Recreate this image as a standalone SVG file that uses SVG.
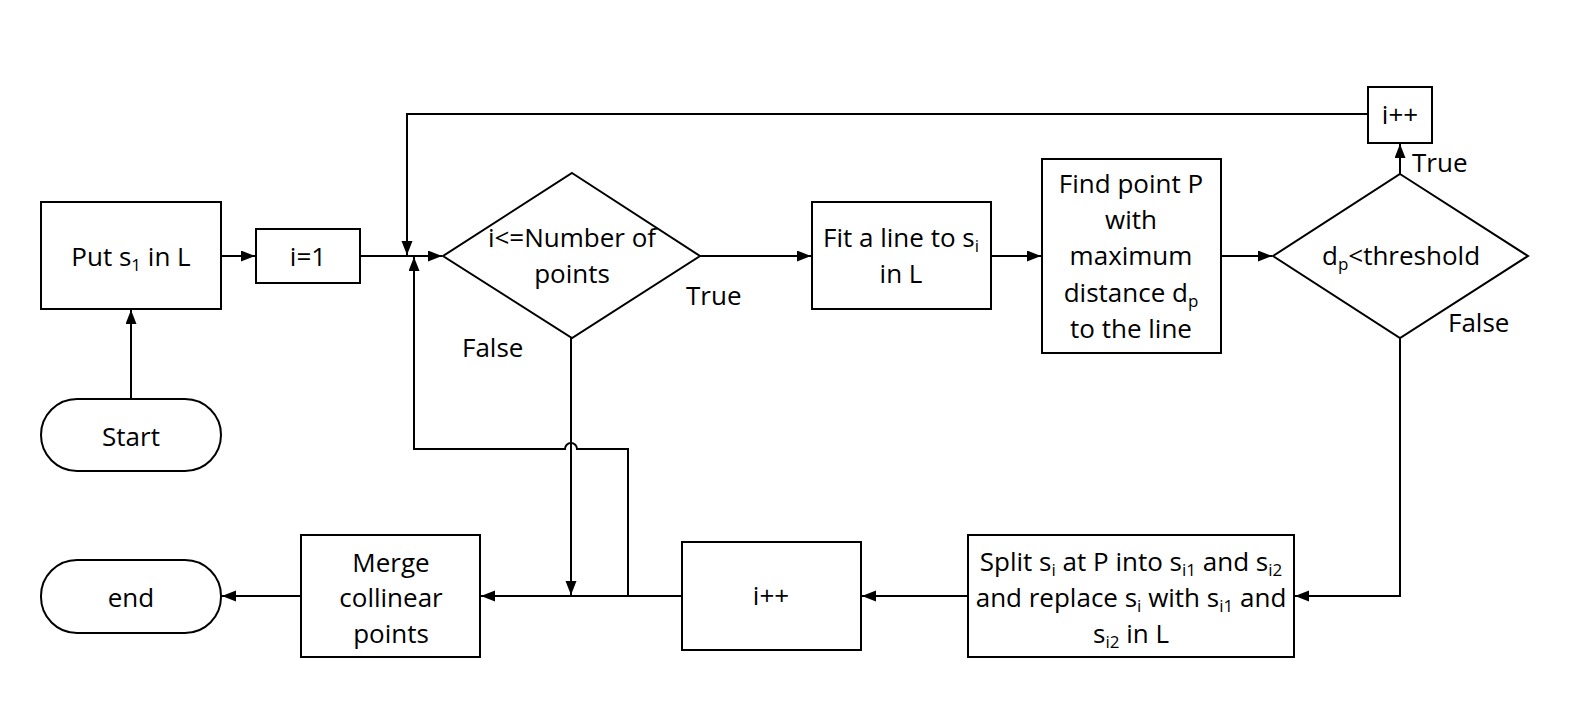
<svg xmlns="http://www.w3.org/2000/svg" width="1577" height="721" viewBox="0 0 1577 721">
<defs>
<marker id="arr" markerUnits="userSpaceOnUse" markerWidth="15" markerHeight="12" refX="14" refY="5.5" orient="auto">
<path d="M0,0 L14,5.5 L0,11 Z" fill="#000"/>
</marker>
<style>
.n{fill:#fff;stroke:#000;stroke-width:2}
.c{fill:none;stroke:#000;stroke-width:2}
.a{marker-end:url(#arr)}
text{font-family:"Open Sans","Noto Sans",sans-serif;font-size:26px;fill:#000}
.m{text-anchor:middle}
.s{font-size:17px}
</style>
</defs>
<rect width="1577" height="721" fill="#fff"/>
<g id="connectors">
<path class="c a" d="M131,399 V310"/>
<path class="c a" d="M221,256 H255"/>
<path class="c a" d="M360,256 H442"/>
<path class="c a" d="M1368,114 H407 V255"/>
<path class="c a" d="M628,596 V449 H577 A6,6 0 0 0 565,449 H414 V257"/>
<path class="c a" d="M700,256 H811"/>
<path class="c a" d="M991,256 H1041"/>
<path class="c a" d="M1221,256 H1272"/>
<path class="c a" d="M1400,174 V144"/>
<path class="c a" d="M1400,338 V596 H1295"/>
<path class="c a" d="M968,596 H862"/>
<path class="c a" d="M682,596 H481"/>
<path class="c a" d="M571,338 V595"/>
<path class="c a" d="M301,596 H222"/>
</g>
<g id="start">
<rect class="n" x="41" y="399" width="180" height="72" rx="36"/>
<text class="m" x="131" y="446">Start</text>
</g>
<g id="put">
<rect class="n" x="41" y="202" width="180" height="107"/>
<text class="m" x="131" y="266">Put s<tspan class="s" dy="5">1</tspan><tspan dy="-5"> in L</tspan></text>
</g>
<g id="init">
<rect class="n" x="256" y="229" width="104" height="54"/>
<text class="m" x="308" y="266">i=1</text>
</g>
<g id="cond1">
<polygon class="n" points="572,173 700,256 572,338 443,256"/>
<text class="m" x="572" y="247">i&lt;=Number of</text>
<text class="m" x="572" y="283">points</text>
<text x="686" y="305">True</text>
<text x="462" y="357">False</text>
</g>
<g id="fit">
<rect class="n" x="812" y="202" width="179" height="107"/>
<text class="m" x="901" y="247">Fit a line to s<tspan class="s" dy="5">i</tspan></text>
<text class="m" x="901" y="283">in L</text>
</g>
<g id="find">
<rect class="n" x="1042" y="159" width="179" height="194"/>
<text class="m" x="1131" y="193">Find point P</text>
<text class="m" x="1131" y="229">with</text>
<text class="m" x="1131" y="265">maximum</text>
<text class="m" x="1131" y="302">distance d<tspan class="s" dy="5">p</tspan></text>
<text class="m" x="1131" y="338">to the line</text>
</g>
<g id="cond2">
<polygon class="n" points="1400,174 1528,256 1400,338 1273,256"/>
<text class="m" x="1401" y="265">d<tspan class="s" dy="5">p</tspan><tspan dy="-5">&lt;threshold</tspan></text>
<text x="1412" y="172">True</text>
<text x="1448" y="332">False</text>
</g>
<g id="inc-top">
<rect class="n" x="1368" y="87" width="64" height="56"/>
<text class="m" x="1400" y="124">i++</text>
</g>
<g id="split">
<rect class="n" x="968" y="535" width="326" height="122"/>
<text class="m" x="1131" y="571">Split s<tspan class="s" dy="5">i</tspan><tspan dy="-5"> at P into s</tspan><tspan class="s" dy="5">i1</tspan><tspan dy="-5"> and s</tspan><tspan class="s" dy="5">i2</tspan></text>
<text class="m" x="1131" y="607">and replace s<tspan class="s" dy="5">i</tspan><tspan dy="-5"> with s</tspan><tspan class="s" dy="5">i1</tspan><tspan dy="-5"> and</tspan></text>
<text class="m" x="1131" y="643">s<tspan class="s" dy="5">i2</tspan><tspan dy="-5"> in L</tspan></text>
</g>
<g id="inc-bottom">
<rect class="n" x="682" y="542" width="179" height="108"/>
<text class="m" x="771" y="605">i++</text>
</g>
<g id="merge">
<rect class="n" x="301" y="535" width="179" height="122"/>
<text class="m" x="391" y="572">Merge</text>
<text class="m" x="391" y="607">collinear</text>
<text class="m" x="391" y="643">points</text>
</g>
<g id="end">
<rect class="n" x="41" y="560" width="180" height="73" rx="36"/>
<text class="m" x="131" y="607">end</text>
</g>
</svg>
